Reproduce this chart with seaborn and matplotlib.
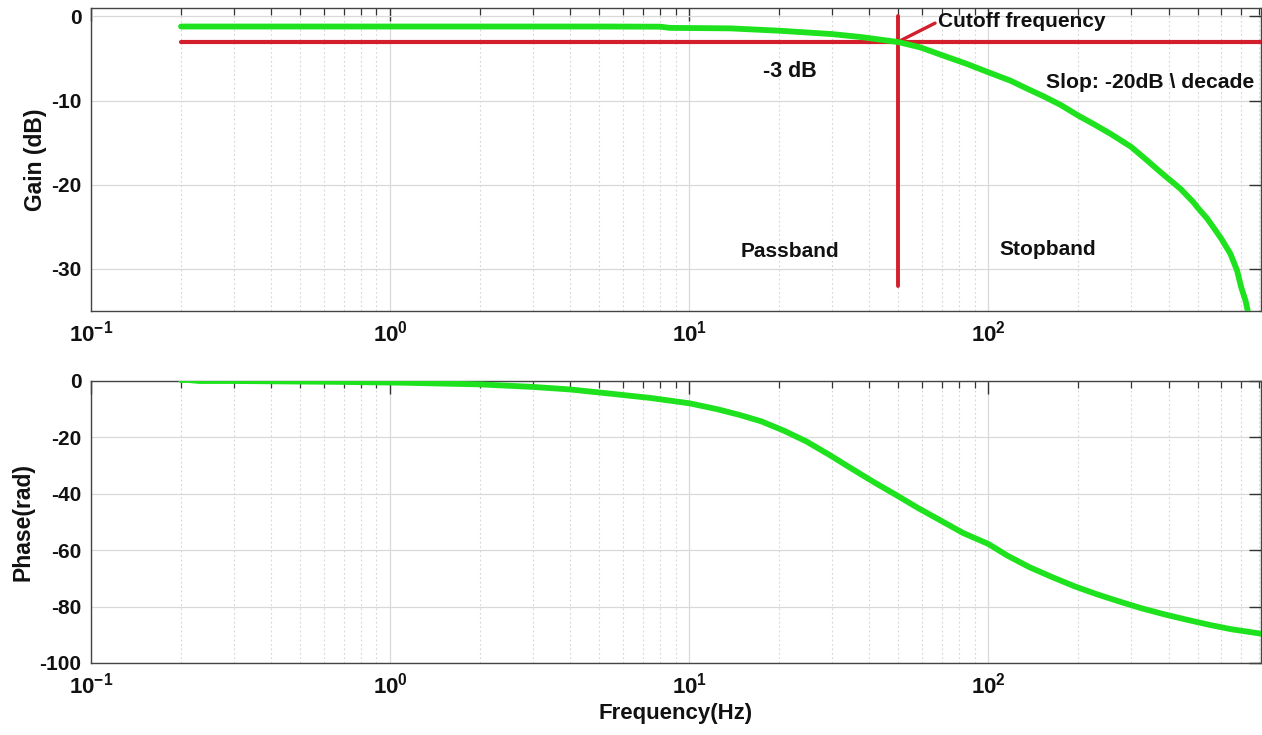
import numpy as np
import pandas as pd
import matplotlib
matplotlib.use("Agg")
import matplotlib.pyplot as plt
import seaborn as sns
from matplotlib.ticker import LogLocator, FuncFormatter, NullFormatter

# ---------------- data ----------------
gain_freq = [0.2, 0.5, 1, 2, 5, 8, 8.6, 10, 13.7, 20, 30, 37.5, 50, 59.2, 70.7, 84.8, 100,
             118.4, 135, 153, 174, 200, 225, 256, 300, 339, 376, 400, 439, 485, 500, 538,
             579, 600, 644, 678, 700, 724, 738]
gain_db = [-1.2, -1.2, -1.2, -1.2, -1.2, -1.22, -1.36, -1.38, -1.42, -1.7, -2.1, -2.45, -3.05,
           -3.68, -4.66, -5.65, -6.64, -7.63, -8.6, -9.5, -10.5, -11.8, -12.8, -13.95, -15.5,
           -17.1, -18.5, -19.3, -20.5, -22.1, -22.7, -24.0, -25.6, -26.4, -28.2, -30.2, -32.2,
           -33.8, -35.2]

phase_freq = [0.2, 0.21, 0.23, 0.3, 0.66, 1.1, 2.0, 3.0, 4.0, 5.24, 7.4, 10, 12.4, 14.7, 17.4,
              20.7, 24.6, 29.3, 34.8, 41.3, 49.1, 58.3, 69.3, 82.3, 100, 115.6, 137, 163,
              194, 230, 274, 325, 386, 458, 544, 646, 815]
phase_deg = [0.3, 0.4, 0.0, 0.0, -0.3, -0.6, -1.2, -2.1, -3.0, -4.3, -6.0, -7.9, -10.0, -12.0,
             -14.3, -17.6, -21.4, -26.1, -31.0, -35.8, -40.4, -45.1, -49.5, -53.9, -57.8,
             -61.9, -66.0, -69.5, -72.8, -75.6, -78.2, -80.6, -82.7, -84.6, -86.4, -88.0, -89.6]

cutoff_freq = 50
cutoff_line_freq = [50, 50]
cutoff_line_gain = [0.1, -32]
minus3_freq = [0.2, 2000]
minus3_gain = [-3, -3]

gain_ticks = [0, -10, -20, -30]
phase_ticks = [0, -20, -40, -60, -80, -100]

# ---------------- style ----------------
sns.set_theme(style="white")
plt.rcParams['font.family'] = ['Liberation Sans', 'DejaVu Sans']
plt.rcParams['font.weight'] = 'bold'
plt.rcParams['axes.unicode_minus'] = False
plt.rcParams['mathtext.fontset'] = 'custom'
plt.rcParams['mathtext.rm'] = 'Liberation Sans:bold'
plt.rcParams['mathtext.bf'] = 'Liberation Sans:bold'
plt.rcParams['mathtext.it'] = 'Liberation Sans:bold'

GREEN = '#1fe21f'
RED = '#d21f2b'
TXT = '#111111'

fig = plt.figure(figsize=(12.62, 7.35), dpi=100)
ax1 = fig.add_axes([91/1262, (735-311)/735, 1170/1262, 303/735])
ax2 = fig.add_axes([91/1262, (735-663)/735, 1170/1262, 282/735])

def style_axes(ax):
    ax.set_xscale('log')
    ax.set_xlim(0.1, 815)
    ax.xaxis.set_major_locator(LogLocator(base=10, numticks=10))
    ax.xaxis.set_minor_locator(LogLocator(base=10, subs=np.arange(2, 10), numticks=20))
    ax.xaxis.set_minor_formatter(NullFormatter())
    ax.xaxis.set_major_formatter(FuncFormatter(
        lambda v, p: r'$\mathbf{10^{%d}}$' % int(round(np.log10(v)))))
    ax.grid(True, which='major', color='#d9d9d9', linewidth=0.9, linestyle='-')
    ax.grid(True, which='minor', color='#d4d4d4', linewidth=0.8, linestyle=(0, (1.5, 2.5)))
    ax.tick_params(which='both', direction='in', top=True, right=True, colors='#333333',
                   labelcolor=TXT)
    ax.tick_params(axis='x', labelsize=16, pad=7)
    ax.tick_params(axis='y', labelsize=15, pad=7)
    ax.tick_params(which='major', length=9, width=1.0)
    ax.tick_params(which='minor', length=5, width=0.9)
    for s in ax.spines.values():
        s.set_color('#444444')
        s.set_linewidth(1.0)
        s.set_visible(True)

# ---------------- top: gain ----------------
gdf = pd.DataFrame({'freq': gain_freq, 'gain': gain_db})
sns.lineplot(data=gdf, x='freq', y='gain', ax=ax1, color=GREEN, linewidth=4.2, zorder=4,
             estimator=None)
sns.lineplot(x=minus3_freq, y=minus3_gain, ax=ax1, color=RED, linewidth=3.0, zorder=3,
             estimator=None)
sns.lineplot(x=cutoff_line_freq, y=cutoff_line_gain, ax=ax1, color=RED, linewidth=2.8,
             zorder=3, sort=False, estimator=None)
style_axes(ax1)
ax1.set_ylim(-35, 1)
ax1.set_yticks(gain_ticks)
ax1.set_ylabel('Gain (dB)', fontsize=16.5, fontweight='bold', color=TXT)
ax1.yaxis.set_label_coords(-0.038, 0.5)
ax1.set_xlabel('')

ax1.annotate('Cutoff frequency', xy=(cutoff_freq, -3), xytext=(68, -0.6),
             fontsize=15, fontweight='bold', color=TXT, ha='left', va='center',
             arrowprops=dict(arrowstyle='-', color=RED, lw=2.4, shrinkA=0, shrinkB=0,
                             relpos=(0.0, 0.5)))
ax1.text(17.7, -6.5, '-3 dB', fontsize=15.5, fontweight='bold', color=TXT, ha='left', va='center')
ax1.text(156, -7.9, 'Slop: -20dB \\ decade', fontsize=15.2, fontweight='bold', color=TXT,
         ha='left', va='center')
ax1.text(14.8, -27.9, 'Passband', fontsize=15, fontweight='bold', color=TXT,
         ha='left', va='center')
ax1.text(109, -27.7, 'Stopband', fontsize=15, fontweight='bold', color=TXT,
         ha='left', va='center')

# ---------------- bottom: phase ----------------
pdf = pd.DataFrame({'freq': phase_freq, 'phase': phase_deg})
sns.lineplot(data=pdf, x='freq', y='phase', ax=ax2, color=GREEN, linewidth=4.2, zorder=4,
             estimator=None)
style_axes(ax2)
ax2.set_ylim(-100, 0)
ax2.set_yticks(phase_ticks)
ax2.set_ylabel('Phase(rad)', fontsize=16.5, fontweight='bold', color=TXT)
ax2.yaxis.set_label_coords(-0.048, 0.5)
ax2.set_xlabel('Frequency(Hz)', fontsize=16, fontweight='bold', color=TXT, labelpad=3)

for ax in (ax1, ax2):
    for lab in ax.get_yticklabels():
        lab.set_fontweight('bold')

fig.savefig('out.png', dpi=100)
